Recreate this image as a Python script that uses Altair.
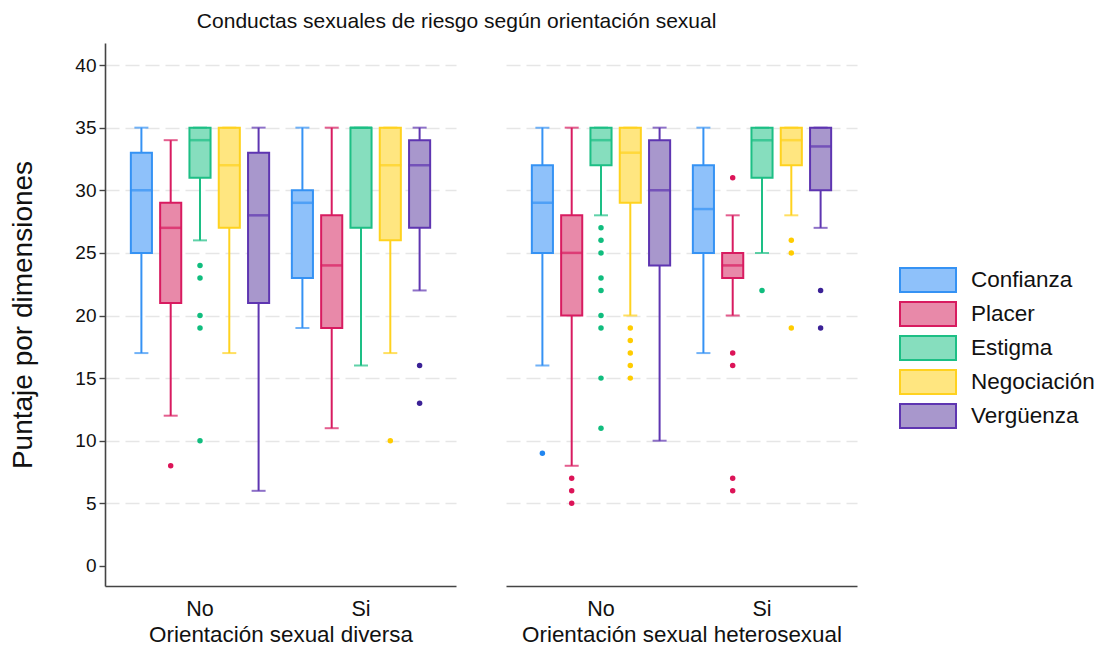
import altair as alt
import pandas as pd

# ---------------- data ----------------
dims = ["Confianza", "Placer", "Estigma", "Negociación", "Vergüenza"]
stroke_colors = ["#3592F4", "#D81B60", "#1DBF85", "#FFD21F", "#5E35B1"]
fill_colors = ["#8EC1FA", "#E889A9", "#86DEBE", "#FFE680", "#A897CC"]
outlier_colors = ["#2186F0", "#DC1458", "#10BD7E", "#FFCC00", "#3B2196"]

groups = ["No", "Si"]
panel_titles = ["Orientación sexual diversa", "Orientación sexual heterosexual"]

# box statistics per dimension (Confianza, Placer, Estigma, Negociación, Vergüenza)
div_no_lo = [17, 12, 26, 17, 6]
div_no_q1 = [25, 21, 31, 27, 21]
div_no_med = [30, 27, 34, 32, 28]
div_no_q3 = [33, 29, 35, 35, 33]
div_no_hi = [35, 34, 35, 35, 35]

div_si_lo = [19, 11, 16, 17, 22]
div_si_q1 = [23, 19, 27, 26, 27]
div_si_med = [29, 24, 35, 32, 32]
div_si_q3 = [30, 28, 35, 35, 34]
div_si_hi = [35, 35, 35, 35, 35]

het_no_lo = [16, 8, 28, 20, 10]
het_no_q1 = [25, 20, 32, 29, 24]
het_no_med = [29, 25, 34, 33, 30]
het_no_q3 = [32, 28, 35, 35, 34]
het_no_hi = [35, 35, 35, 35, 35]

het_si_lo = [17, 20, 25, 28, 27]
het_si_q1 = [25, 23, 31, 32, 30]
het_si_med = [28.5, 24, 34, 34, 33.5]
het_si_q3 = [32, 25, 35, 35, 35]
het_si_hi = [35, 28, 35, 35, 35]

# outliers per dimension
div_no_out = [[], [8], [24, 23, 20, 19, 10], [], []]
div_si_out = [[], [], [], [10], [16, 13]]
het_no_out = [[9], [7, 6, 5], [27, 26, 25, 23, 22, 20, 19, 15, 11], [19, 18, 17, 16, 15], []]
het_si_out = [[], [31, 17, 16, 7, 6], [22], [26, 25, 19], [22, 19]]

stats = {
    (0, "No"): (div_no_lo, div_no_q1, div_no_med, div_no_q3, div_no_hi, div_no_out),
    (0, "Si"): (div_si_lo, div_si_q1, div_si_med, div_si_q3, div_si_hi, div_si_out),
    (1, "No"): (het_no_lo, het_no_q1, het_no_med, het_no_q3, het_no_hi, het_no_out),
    (1, "Si"): (het_si_lo, het_si_q1, het_si_med, het_si_q3, het_si_hi, het_si_out),
}

FONT = "Liberation Sans"
YTICKS = [0, 5, 10, 15, 20, 25, 30, 35, 40]


def panel_data(p):
    box_rows, out_rows = [], []
    for g in groups:
        lo, q1, med, q3, hi, outs = stats[(p, g)]
        for i, d in enumerate(dims):
            box_rows.append(dict(grupo=g, dim=d, lo=lo[i], q1=q1[i], med=med[i],
                                 q3=q3[i], hi=hi[i], scol=stroke_colors[i]))
            for v in outs[i]:
                out_rows.append(dict(grupo=g, dim=d, val=v, ocol=outlier_colors[i]))
    return pd.DataFrame(box_rows), pd.DataFrame(out_rows)


def make_panel(p):
    box_df, out_df = panel_data(p)
    first = p == 0
    x = alt.X("grupo:N", sort=groups, title=panel_titles[p],
              scale=alt.Scale(paddingInner=0, paddingOuter=0.09),
              axis=alt.Axis(labelAngle=0, ticks=False, labelFontSize=21.5,
                            labelPadding=12, titleFontSize=22.4, titlePadding=4,
                            titleFontWeight="normal", domainColor="#444",
                            domainWidth=1.6, labelColor="#111", titleColor="#111"))
    xo = alt.XOffset("dim:N", sort=dims,
                     scale=alt.Scale(paddingInner=0.28, paddingOuter=0.3875))
    yscale = alt.Scale(domain=[-1.6, 41.76], nice=False, zero=False)
    grid_op = {"condition": {"test": "datum.value === 0", "value": 0}, "value": 1}
    if first:
        yaxis = alt.Axis(values=YTICKS, title="Puntaje por dimensiones",
                         labelFontSize=19, titleFontSize=28, titleFontWeight="normal",
                         tickSize=6, labelPadding=3, titlePadding=37,
                         domainColor="#444", domainWidth=1.6, tickColor="#444",
                         tickWidth=1.4, gridOpacity=grid_op, labelColor="#111",
                         titleColor="#111")
    else:
        yaxis = alt.Axis(values=YTICKS, title=None, labels=False, ticks=False,
                         domain=False, gridOpacity=grid_op)

    y_lo = alt.Y("lo:Q", scale=yscale, axis=yaxis)
    base = alt.Chart(box_df)
    stroke_enc = alt.Stroke("dim:N", sort=dims, title=None,
                            scale=alt.Scale(domain=dims, range=stroke_colors))
    fill_enc = alt.Fill("dim:N", sort=dims, title=None,
                        scale=alt.Scale(domain=dims, range=fill_colors))

    whisk = base.mark_rule(strokeWidth=2).encode(
        x=x, xOffset=xo, y=y_lo, y2="hi:Q", stroke=stroke_enc)
    box = base.mark_bar(strokeWidth=2).encode(
        x=x, xOffset=xo, y=alt.Y("q1:Q", scale=yscale), y2="q3:Q",
        fill=fill_enc, stroke=stroke_enc)
    med = base.mark_tick(size=22, thickness=2.5).encode(
        x=x, xOffset=xo, y=alt.Y("med:Q", scale=yscale),
        color=alt.Color("scol:N", scale=None))
    cap_lo = base.mark_tick(size=14, thickness=2).encode(
        x=x, xOffset=xo, y=alt.Y("lo:Q", scale=yscale),
        color=alt.Color("scol:N", scale=None))
    cap_hi = base.mark_tick(size=14, thickness=2).encode(
        x=x, xOffset=xo, y=alt.Y("hi:Q", scale=yscale),
        color=alt.Color("scol:N", scale=None))
    pts = alt.Chart(out_df).mark_circle(size=30, opacity=1).encode(
        x=x, xOffset=xo, y=alt.Y("val:Q", scale=yscale),
        color=alt.Color("ocol:N", scale=None))

    return alt.layer(whisk, box, med, cap_lo, cap_hi, pts).properties(
        width=351, height=543)


chart = alt.hconcat(make_panel(0), make_panel(1), spacing=50).properties(
    title=alt.TitleParams("Conductas sexuales de riesgo según orientación sexual",
                          fontSize=21, fontWeight="normal", anchor="start",
                          dx=187, offset=11, font=FONT, color="#111"),
    padding={"left": 1, "top": 3, "right": 0, "bottom": 0},
).configure(font=FONT).configure_view(stroke=None).configure_axis(
    labelFont=FONT, titleFont=FONT, gridColor="#e6e6e6", gridDash=[14, 6],
    gridWidth=1.5,
).configure_legend(
    orient="none", legendX=808, legendY=222, title=None,
    symbolType="M-2,-0.86L2,-0.86L2,0.86L-2,0.86Z", symbolSize=784,
    symbolStrokeWidth=2, labelFontSize=22.5, labelOffset=28, rowPadding=0,
    labelFont=FONT, labelColor="#111", symbolOpacity=1,
)

chart.save("out.html", embed_options={"renderer": "svg", "actions": False})
